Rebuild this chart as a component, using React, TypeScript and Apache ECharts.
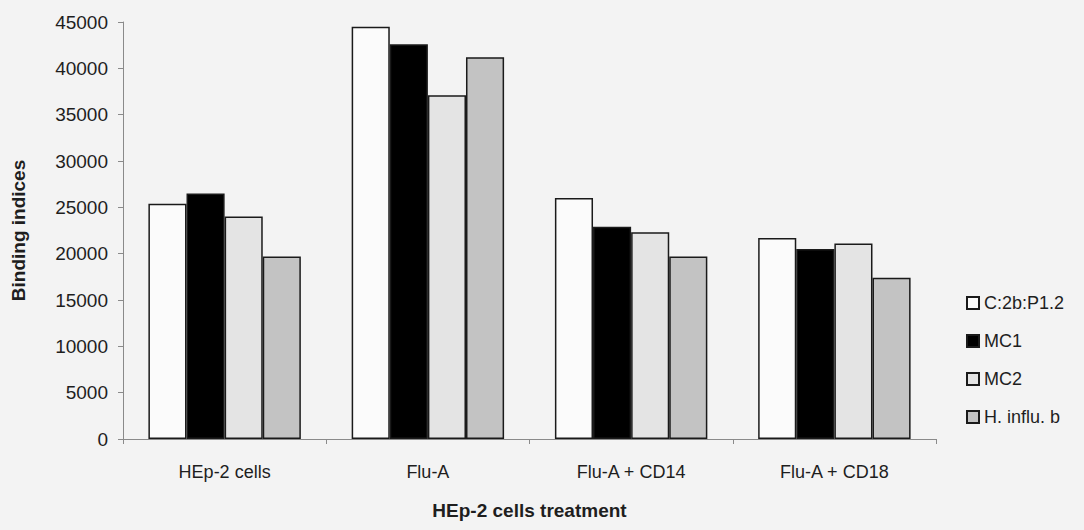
import React, { useEffect, useRef } from "react";
import * as echarts from "echarts";

// Treatment groups along the x axis
const categories = ["HEp-2 cells", "Flu-A", "Flu-A + CD14", "Flu-A + CD18"];

// Binding indices per antibody, one value per treatment group
const seriesNames = ["C:2b:P1.2", "MC1", "MC2", "H. influ. b"];
const c2bP12 = [25400, 44500, 26000, 21700];
const mc1 = [26500, 42600, 22900, 20500];
const mc2 = [24000, 37100, 22300, 21100];
const hInfluB = [19700, 41200, 19700, 17400];

const yTicks = { min: 0, max: 45000, interval: 5000 };

const fills = ["#fbfbfb", "#000000", "#e4e4e4", "#c3c3c3"];

const FONT = "Liberation Sans, Arial, Helvetica, sans-serif";
const TEXT = "#1e1e1e";
const BG = "#f3f3f3";

export default function App() {
  const ref = useRef<HTMLDivElement>(null);

  useEffect(() => {
    if (!ref.current) return;
    const chart = echarts.init(ref.current, null, { renderer: "svg" });
    const values = [c2bP12, mc1, mc2, hInfluB];

    chart.setOption({
      animation: false,
      backgroundColor: BG,
      grid: { left: 123, right: 148, top: 22, bottom: 91, containLabel: false },
      legend: {
        orient: "vertical",
        left: 961,
        top: 289,
        icon: "rect",
        itemWidth: 12,
        itemHeight: 12,
        itemGap: 20,
        textStyle: { fontFamily: FONT, fontSize: 18, color: TEXT, lineHeight: 18 },
        data: seriesNames,
      },
      xAxis: {
        type: "category",
        data: categories,
        name: "HEp-2 cells treatment",
        nameLocation: "middle",
        nameGap: 62,
        nameTextStyle: { fontFamily: FONT, fontSize: 19, fontWeight: "bold", color: TEXT },
        axisLine: { lineStyle: { color: "#8a8a8a", width: 1 } },
        axisTick: { show: true, length: 5, lineStyle: { color: "#8a8a8a" } },
        axisLabel: { fontFamily: FONT, fontSize: 18, color: TEXT, margin: 24 },
      },
      yAxis: {
        type: "value",
        min: yTicks.min,
        max: yTicks.max,
        interval: yTicks.interval,
        name: "Binding indices",
        nameLocation: "middle",
        nameGap: 95,
        nameTextStyle: { fontFamily: FONT, fontSize: 19, fontWeight: "bold", color: TEXT },
        axisLine: { show: true, lineStyle: { color: "#8a8a8a", width: 1 } },
        axisTick: { show: true, length: 5, lineStyle: { color: "#8a8a8a" } },
        splitLine: { show: false },
        axisLabel: {
          fontFamily: FONT,
          fontSize: 19,
          color: TEXT,
          margin: 15,
          formatter: (v: number) => String(v),
        },
      },
      series: seriesNames.map((name, i) => ({
        name,
        type: "bar",
        data: values[i],
        barGap: "0%",
        barCategoryGap: "25%",
        itemStyle: { color: fills[i], borderColor: "#1a1a1a", borderWidth: 1.5 },
      })),
    });

    return () => chart.dispose();
  }, []);

  return (
    <div
      ref={ref}
      style={{ position: "absolute", left: 0, top: 0, width: 1084, height: 530 }}
    />
  );
}
